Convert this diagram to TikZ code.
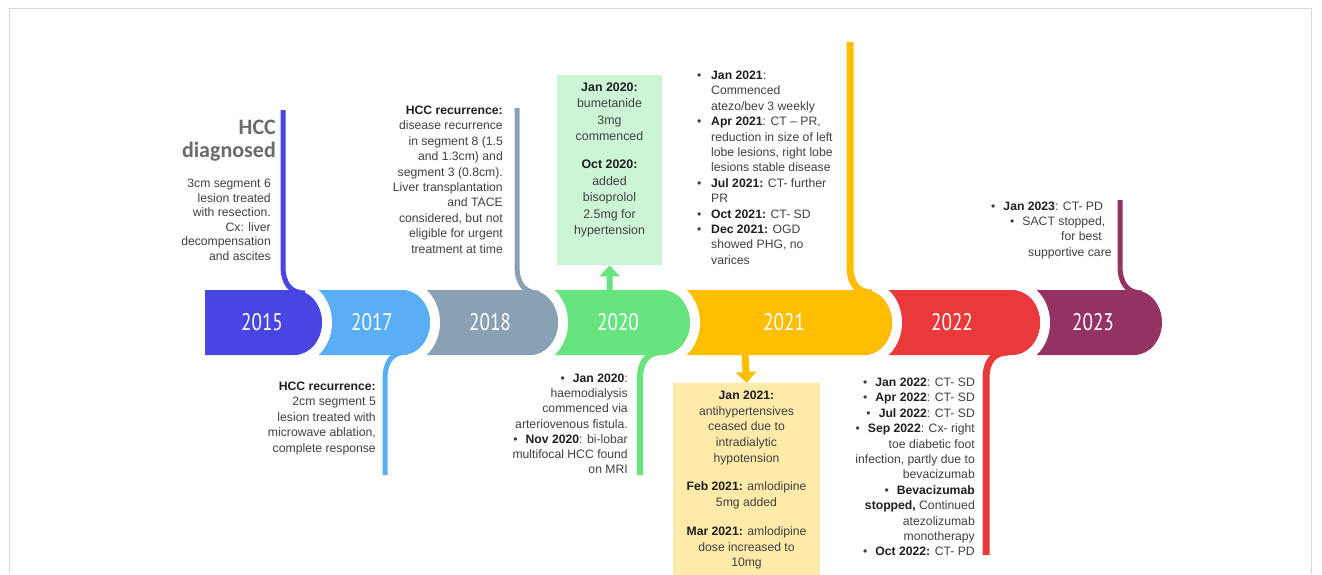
\documentclass[tikz,border=0pt]{standalone}
\usepackage{fontspec}
\setmainfont{Liberation Sans}
\newfontfamily\yearfont[FakeStretch=0.8]{PT Sans}
\newfontfamily\titlefont{Carlito}
\usetikzlibrary{arrows.meta}
\definecolor{cA}{HTML}{4845E2}
\definecolor{cB}{HTML}{5AAEF6}
\definecolor{cC}{HTML}{8AA0B4}
\definecolor{cD}{HTML}{67E480}
\definecolor{cE}{HTML}{FFBF00}
\definecolor{cF}{HTML}{E9393B}
\definecolor{cG}{HTML}{953264}
\definecolor{boxgreen}{HTML}{CCF5D5}
\definecolor{boxyellow}{HTML}{FEEAA9}
\definecolor{txt}{HTML}{404040}
\definecolor{txtb}{HTML}{1F1F1F}
\definecolor{ttl}{HTML}{6B6B6B}
\newcommand\tlseg[3]{%
  \pgfmathsetmacro\segc{#3-28}
  \draw[white,line width=10pt] (\segc,322.5) ++(0pt,37.5pt) arc[start angle=90,end angle=-90,x radius=33pt,y radius=37.5pt];
  \fill[#1] (#2,290) -- (\segc,290) arc[start angle=90,end angle=-90,x radius=28pt,y radius=32.5pt] -- (#2,355) -- cycle;
}
\newcommand\bb[1]{\textbf{\color{txtb}#1}}
\newcommand\bl{\makebox[14pt][l]{•}}
\newcommand\ind{\hspace*{14pt}}
\newcommand\bu{•\hspace{8pt}}
\begin{document}
\begin{tikzpicture}[x=1pt,y=-1pt,
  body/.style={inner sep=0pt, text=txt, font=\fontsize{12.2}{15.4}\selectfont},
  yearlbl/.style={inner sep=0pt, text=white, font=\yearfont\fontsize{24}{24}\selectfont},
  conn/.style={line width=#1, line cap=butt},
  arr/.style={-{Triangle[width=20pt,length=11pt]}}]
\useasboundingbox (0,0) rectangle (1322,574);
\fill[white] (0,0) rectangle (1322,574);
\draw[black!15, line width=0.8pt] (9.5,574) -- (9.5,8.5) -- (1311.5,8.5) -- (1311.5,574);

% boxes
\node[fill=boxgreen, inner sep=0pt, minimum width=105pt, minimum height=190pt, anchor=north west] (gbox) at (557,75) {};
\node[fill=boxyellow, inner sep=0pt, minimum width=147pt, minimum height=200pt, anchor=north west] (ybox) at (673,383) {};

% timeline segments (right to left)
\tlseg{cG}{1020}{1162}
\tlseg{cF}{866}{1040}
\tlseg{cE}{664}{892}
\tlseg{cD}{532}{690}
\tlseg{cC}{404}{558}
\tlseg{cB}{296}{430}
\tlseg{cA}{205}{322}

% connectors
\coordinate (k15a) at (283,110);  \coordinate (k15b) at (305,293);
\coordinate (k18a) at (517,108);  \coordinate (k18b) at (539,293);
\coordinate (k21a) at (850,42);   \coordinate (k21b) at (872,293);
\coordinate (k23a) at (1120,200); \coordinate (k23b) at (1142,293);
\coordinate (k17a) at (385,475);  \coordinate (k17b) at (407,352);
\coordinate (k20a) at (640,475);  \coordinate (k20b) at (662,352);
\coordinate (k22a) at (986,555);  \coordinate (k22b) at (1008,352);
\draw[cA, conn=5pt] (k15a) -- (283,266) .. controls (283,283) and (290,293) .. (k15b);
\draw[cC, conn=5pt] (k18a) -- (517,266) .. controls (517,283) and (524,293) .. (k18b);
\draw[cE, conn=7pt] (k21a) -- (850,266) .. controls (850,283) and (857,293) .. (k21b);
\draw[cG, conn=5pt] (k23a) -- (1120,266) .. controls (1120,283) and (1127,293) .. (k23b);
\draw[cB, conn=5pt] (k17a) -- (385,379) .. controls (385,362) and (392,352) .. (k17b);
\draw[cD, conn=6pt] (k20a) -- (640,379) .. controls (640,362) and (647,352) .. (k20b);
\draw[cF, conn=7pt] (k22a) -- (986,379) .. controls (986,362) and (993,352) .. (k22b);

% arrows
\coordinate (a20) at (609.5,292);
\coordinate (a21) at (745,353);
\draw[cD, line width=6pt, arr] (a20) -- (gbox.south);
\draw[cE, line width=7pt, arr] (a21) -- (ybox.north);

% year labels
\node[yearlbl] (y2015) at (262,322) {2015};
\node[yearlbl] (y2017) at (372,322) {2017};
\node[yearlbl] (y2018) at (490,322) {2018};
\node[yearlbl] (y2020) at (618,322) {2020};
\node[yearlbl] (y2021) at (784,322) {2021};
\node[yearlbl] (y2022) at (952,322) {2022};
\node[yearlbl] (y2023) at (1093,322) {2023};

% texts
\node[inner sep=0pt, anchor=north east, align=right, text=ttl, font=\titlefont\bfseries\fontsize{22}{23}\selectfont] (t15) at (276,119.5) {HCC\\diagnosed};
\node[body, anchor=north east, align=right, font=\fontsize{12.2}{14.6}\selectfont] (b15) at (271,178.7) {3cm segment 6\\lesion treated\\with resection.\\Cx: liver\\decompensation\\and ascites};

\node[body, anchor=north east, align=right] (b18) at (503,105.7) {\bb{HCC recurrence:}\\disease recurrence\\in segment 8 (1.5\\and 1.3cm) and\\segment 3 (0.8cm).\\Liver transplantation\\and TACE\\considered, but not\\eligible for urgent\\treatment at time};

\node[body, anchor=north, align=center, font=\fontsize{12.4}{16.4}\selectfont] (g20) at (609.5,82.7) {\bb{Jan 2020:}\\bumetanide\\3mg\\commenced\\[11.7pt]\bb{Oct 2020:}\\added\\bisoprolol\\2.5mg for\\hypertension};

\node[body, anchor=north west, align=left] (b21) at (697,70.7) {\bl\bb{Jan 2021}:\\\ind Commenced\\\ind atezo/bev 3 weekly\\\bl\bb{Apr 2021}: CT -- PR,\\\ind reduction in size of left\\\ind lobe lesions, right lobe\\\ind lesions stable disease\\\bl\bb{Jul 2021:} CT- further\\\ind PR\\\bl\bb{Oct 2021:} CT- SD\\\bl\bb{Dec 2021:} OGD\\\ind showed PHG, no\\\ind varices};

\node[body, anchor=north east, align=right, font=\fontsize{12.2}{15.5}\selectfont] (b17) at (376,381.7) {\bb{HCC recurrence:}\\2cm segment 5\\lesion treated with\\microwave ablation,\\complete response};

\node[body, anchor=north east, align=right, font=\fontsize{12.2}{15.2}\selectfont] (b20) at (628,373.7) {\bu\bb{Jan 2020}:\\haemodialysis\\commenced via\\arteriovenous fistula.\\\bu\bb{Nov 2020}: bi-lobar\\multifocal HCC found\\on MRI};

\node[body, anchor=north, align=center, font=\fontsize{12.2}{15.7}\selectfont] (y21) at (746.5,390.7) {\bb{Jan 2021:}\\antihypertensives\\ceased due to\\intradialytic\\hypotension\\[13pt]\bb{Feb 2021:} amlodipine\\5mg added\\[13pt]\bb{Mar 2021:} amlodipine\\dose increased to\\10mg};

\node[body, anchor=north east, align=right] (b22) at (975,377.7) {\bu\bb{Jan 2022}: CT- SD\\\bu\bb{Apr 2022}: CT- SD\\\bu\bb{Jul 2022}: CT- SD\\\bu\bb{Sep 2022}: Cx- right\\toe diabetic foot\\infection, partly due to\\bevacizumab\\\bu\bb{Bevacizumab}\\\bb{stopped,} Continued\\atezolizumab\\monotherapy\\\bu\bb{Oct 2022:} CT- PD};

\node[body, anchor=base west] (b23a) at (991,210.5) {\bu\bb{Jan 2023}: CT- PD};
\node[body, anchor=base west] (b23b) at (1010,225.5) {\bu SACT stopped,};
\node[body, anchor=base west] (b23c) at (1061,240.5) {for best};
\node[body, anchor=base west] (b23d) at (1028,256.5) {supportive care};
\end{tikzpicture}
\end{document}
